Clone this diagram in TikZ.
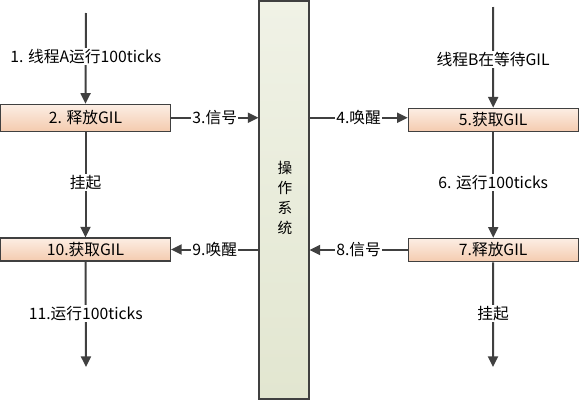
\documentclass[tikz,border=0pt]{standalone}
\usepackage{fontspec}
\setmainfont{Noto Sans CJK SC}
\usetikzlibrary{arrows.meta}
\definecolor{linec}{HTML}{404040}
\definecolor{boxtop}{HTML}{FCEEE4}
\definecolor{boxbot}{HTML}{F4CBAF}
\definecolor{ostop}{HTML}{F0F2E6}
\definecolor{osbot}{HTML}{E2E6D0}
\tikzset{
  gilbox/.style={draw=linec, line width=0.8pt, top color=boxtop, bottom color=boxbot,
    minimum width=127.5pt, inner sep=0pt, font=\fontsize{11.8pt}{13pt}\selectfont},
  osbox/.style={draw=linec, line width=0.8pt, top color=ostop, bottom color=osbot,
    minimum width=37.5pt, minimum height=298.5pt, inner sep=0pt},
  flow/.style={draw=linec, line width=1.5pt, -{Triangle[width=7.5pt,length=8pt]}},
  lbl/.style={fill=white, inner sep=1pt, text=black, font=\fontsize{11.8pt}{13pt}\selectfont}
}
\begin{document}
\begin{tikzpicture}[x=0.75pt,y=-0.75pt]
\useasboundingbox (0,0) rectangle (579,400);
\node[osbox] (os) at (284,200) {};
\node[font=\fontsize{11pt}{15pt}\selectfont, align=center] (ostext) at (285,198) {操\\作\\系\\统};
\node[gilbox, minimum height=20.25pt] (b2) at (85.5,117.75) {2. 释放GIL};
\node[gilbox, minimum height=17.25pt] (b10) at (85.5,249.5) {10.获取GIL};
\node[gilbox, minimum height=17.6pt] (b5) at (493.2,119.9) {5.获取GIL};
\node[gilbox, minimum height=17.6pt] (b7) at (493.2,250) {7.释放GIL};
\coordinate (s1) at (86,13);
\coordinate (s5) at (493,7);
\coordinate (e10) at (86,367);
\coordinate (e7) at (493,367);
\draw[flow] (s1) -- node[lbl, pos=0.48] (l1) {1. 线程A运行100ticks} (b2.north);
\draw[flow] (s5) -- node[lbl, pos=0.52] (l5) {线程B在等待GIL} (b5.north);
\draw[flow] (b2.south) -- node[lbl, pos=0.48] (l2) {挂起} (b10.north);
\draw[flow] (b5.south) -- node[lbl, pos=0.48] (l6) {6. 运行100ticks} (b7.north);
\draw[flow] (b10.south) -- node[lbl, pos=0.49] (l11) {11.运行100ticks} (e10);
\draw[flow] (b7.south) -- node[lbl, pos=0.49] (l7) {挂起} (e7);
\draw[flow] (b2.east) -- node[lbl] (l3) {3.信号} (b2.east -| os.west);
\draw[flow] (os.east |- b2.east) -- node[lbl] (l4) {4.唤醒} (b5.west |- b2.east);
\draw[flow] (os.west |- b10.east) -- node[lbl] (l9) {9.唤醒} (b10.east);
\draw[flow] (b7.west) -- node[lbl] (l8) {8.信号} (b7.west -| os.east);
\end{tikzpicture}
\end{document}
